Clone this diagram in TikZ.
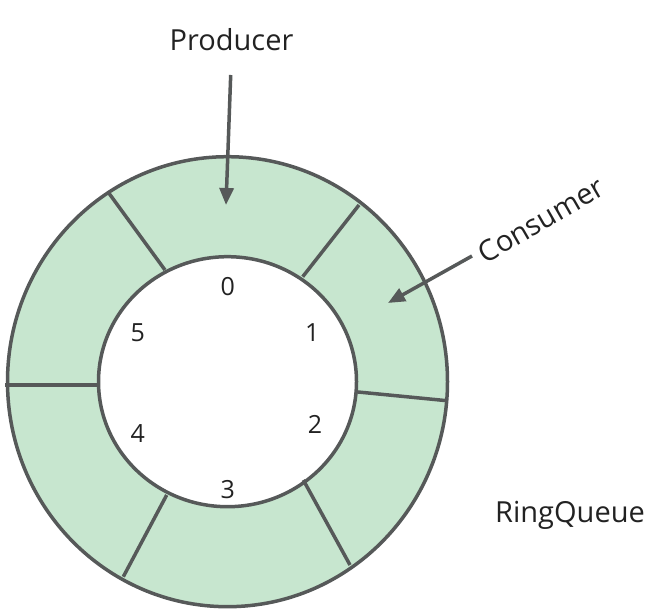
\documentclass[tikz,border=0pt]{standalone}
\usepackage{fontspec}
\setmainfont{Open Sans}
\usetikzlibrary{arrows.meta}
\definecolor{ringfill}{HTML}{C7E6CF}
\definecolor{ringline}{HTML}{565959}
\definecolor{txt}{HTML}{222222}
\tikzset{
  ringedge/.style={draw=ringline, line width=3.5pt},
  divider/.style={ringline, line width=3.5pt},
  pointer/.style={ringline, line width=3.5pt, -{Triangle[length=17pt,width=14pt]}},
  label/.style={text=txt, font=\fontsize{29}{32}\selectfont, inner sep=0pt},
  slotnum/.style={text=txt, font=\fontsize{25}{28}\selectfont, inner sep=0pt}
}
\begin{document}
\begin{tikzpicture}[x=1pt,y=-1pt]
\useasboundingbox (0,0) rectangle (668,612);
\coordinate (c) at (227.5,381.7);
\fill[ringfill, even odd rule] (c) ellipse (220pt and 225pt) (c) ellipse (129pt and 125pt);
\draw[ringedge] (c) ellipse (220pt and 225pt);
\draw[ringedge] (c) ellipse (129pt and 125pt);
% dividers
\coordinate (o50) at (109,193.3);  \coordinate (i50) at (165,270);
\coordinate (o01) at (359,205);    \coordinate (i01) at (302.7,276.7);
\coordinate (o12) at (447,400.7);  \coordinate (i12) at (355,391.7);
\coordinate (o23) at (350,565);    \coordinate (i23) at (303.3,480);
\coordinate (o34) at (123.3,576.7); \coordinate (i34) at (166.7,495);
\coordinate (o45) at (5,385);      \coordinate (i45) at (98.5,385);
\draw[divider] (o50) -- (i50);
\draw[divider] (o01) -- (i01);
\draw[divider] (o12) -- (i12);
\draw[divider] (o23) -- (i23);
\draw[divider] (o34) -- (i34);
\draw[divider] (o45) -- (i45);
% slot numbers
\node[slotnum] (n0) at (227.7,287) {0};
\node[slotnum] (n1) at (312.3,333) {1};
\node[slotnum] (n2) at (315,424) {2};
\node[slotnum] (n3) at (227.7,490) {3};
\node[slotnum] (n4) at (137.7,434) {4};
\node[slotnum] (n5) at (137.7,333) {5};
% labels
\node[label] (prod) at (231.5,40) {Producer};
\node[label, rotate=30] (cons) at (541,220) {Consumer};
\node[label] (rq) at (570,515) {RingQueue};
\coordinate (ptip) at (226,205);
\coordinate (ctip) at (388,303);
\coordinate (pstart) at (230.7,75);
\coordinate (cstart) at (472,256);
\draw[pointer] (pstart) -- (ptip);
\draw[pointer] (cstart) -- (ctip);
\end{tikzpicture}
\end{document}
